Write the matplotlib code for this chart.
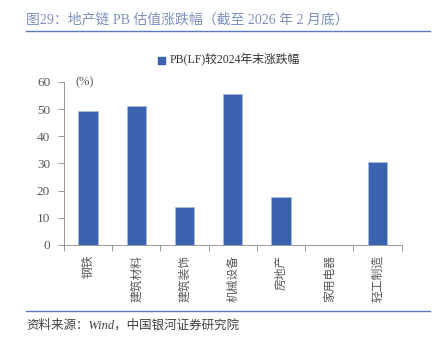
import matplotlib
matplotlib.use('Agg')
import matplotlib.pyplot as plt
from matplotlib.lines import Line2D
from matplotlib.patches import Rectangle

plt.rcParams['font.family'] = ['Liberation Serif', 'Noto Sans CJK SC', 'DejaVu Sans']

categories = ['钢铁', '建筑材料', '建筑装饰', '机械设备', '房地产', '家用电器', '轻工制造']
pb_change = [49.3, 51.3, 14.0, 55.7, 17.8, 0.0, 30.4]
legend_label = 'PB(LF)较2024年末涨跌幅'
title = '图29：地产链 PB 估值涨跌幅（截至 2026 年 2 月底）'
source = '资料来源：Wind，中国银河证券研究院'

bar_color = '#3a62ae'
grey = '#595959'

fig = plt.figure(figsize=(4.34, 3.39), dpi=100)
ax = fig.add_axes([0.1475, 0.2773, 0.778, 0.481])

x = range(len(categories))
ax.bar(x, pb_change, width=0.4, color=bar_color, edgecolor='#a9bde0', linewidth=0.5)

ax.set_xlim(-0.5, len(categories) - 0.5)
ax.set_ylim(0, 60)
ax.set_yticks(range(0, 61, 10))
ax.tick_params(axis='y', direction='out', length=4, width=0.6, color='#888888',
               labelsize=9.5, labelcolor=grey, pad=6)
ax.set_xticks([i - 0.5 for i in range(len(categories) + 1)])
ax.set_xticklabels([])
ax.tick_params(axis='x', direction='out', length=4, width=0.6, color='#888888')
for i, c in enumerate(categories):
    ax.text(i, -3.5, c, rotation=90, ha='center', va='top', fontsize=8.5,
            color=grey, family=['Noto Sans CJK SC'])

for s in ['top', 'right']:
    ax.spines[s].set_visible(False)
for s in ['left', 'bottom']:
    ax.spines[s].set_color('#888888')
    ax.spines[s].set_linewidth(0.6)

ax.text(0.035, 1.0, '(%)', transform=ax.transAxes, fontsize=9, color=grey,
        va='center', ha='left')

# legend
fig.patches.append(Rectangle((158 / 434, 1 - 64 / 339), 7 / 434, 7 / 339,
                             transform=fig.transFigure, color=bar_color))
fig.text(170 / 434, 1 - 60 / 339, legend_label, fontsize=8.5, color='#333333',
         va='center', ha='left')

# title and rules
fig.text(26 / 434, 1 - 20 / 339, title, fontsize=10, color='#7d8fbf',
         va='center', ha='left')
fig.add_artist(Line2D([26 / 434, 430 / 434], [1 - 31 / 339, 1 - 31 / 339],
                      color='#5b7bc0', linewidth=1.0, transform=fig.transFigure))
fig.add_artist(Line2D([26 / 434, 430 / 434], [1 - 311 / 339, 1 - 311 / 339],
                      color='#5b7bc0', linewidth=1.0, transform=fig.transFigure))
fig.text(26 / 434, 1 - 325 / 339, source, fontsize=9, color='#404040',
         va='center', ha='left', style='italic')

fig.savefig('out.png', dpi=100)
